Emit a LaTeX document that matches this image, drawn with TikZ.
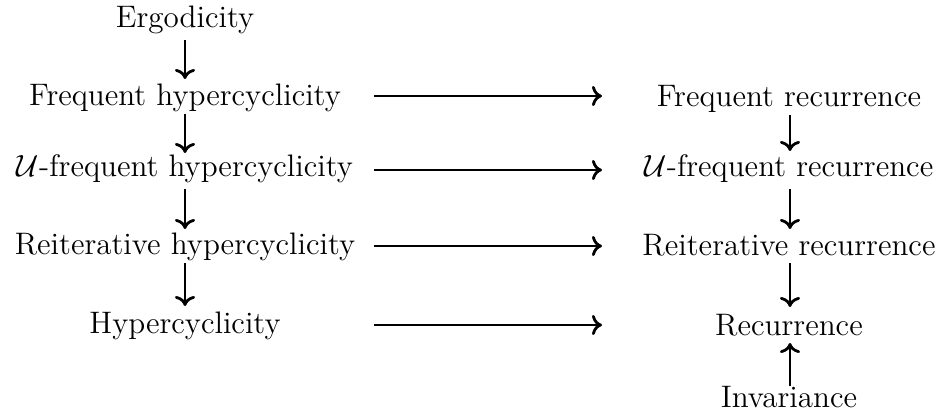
\documentclass[tikz,border=0pt]{standalone}
\usetikzlibrary{arrows.meta}
\begin{document}
\begin{tikzpicture}[x=0.357pt,y=-0.357pt,
  lbl/.style={anchor=base,inner sep=0pt,font=\fontsize{11.1pt}{13pt}\selectfont},
  arr/.style={line width=1pt,-{Computer Modern Rightarrow[length=3.6pt,width=7.2pt]}}]
\useasboundingbox (0,0) rectangle (945,417);
% left column
\node[lbl] (E)   at (185,28)  {Ergodicity};
\node[lbl] (FH)  at (185,106) {Frequent hypercyclicity};
\node[lbl] (UFH) at (185,177) {$\mathcal{U}$-frequent hypercyclicity};
\node[lbl] (RH)  at (185,254) {Reiterative hypercyclicity};
\node[lbl] (H)   at (185,333) {Hypercyclicity};
% right column
\node[lbl] (FR)  at (789,107) {Frequent recurrence};
\node[lbl] (UFR) at (789,177) {$\mathcal{U}$-frequent recurrence};
\node[lbl] (RR)  at (789,255) {Reiterative recurrence};
\node[lbl] (R)   at (789,335) {Recurrence};
\node[lbl] (I)   at (789,407) {Invariance};
% connector end points
\coordinate (e1) at (185,40);  \coordinate (e2) at (185,79);
\coordinate (f1) at (185,114); \coordinate (f2) at (185,153);
\coordinate (u1) at (185,189); \coordinate (u2) at (185,229);
\coordinate (r1) at (185,263); \coordinate (r2) at (185,306);
\coordinate (fr1) at (790,115); \coordinate (fr2) at (790,151);
\coordinate (ur1) at (790,189); \coordinate (ur2) at (790,229);
\coordinate (rr1) at (790,263); \coordinate (rr2) at (790,307);
\coordinate (i1) at (790,386);  \coordinate (i2) at (790,343);
\coordinate (h2a) at (374,96);  \coordinate (h2b) at (602,96);
\coordinate (h3a) at (374,170); \coordinate (h3b) at (602,170);
\coordinate (h4a) at (374,246); \coordinate (h4b) at (602,246);
\coordinate (h5a) at (374,325); \coordinate (h5b) at (602,325);
% vertical arrows
\draw[arr] (e1) -- (e2);
\draw[arr] (f1) -- (f2);
\draw[arr] (u1) -- (u2);
\draw[arr] (r1) -- (r2);
\draw[arr] (fr1) -- (fr2);
\draw[arr] (ur1) -- (ur2);
\draw[arr] (rr1) -- (rr2);
\draw[arr] (i1) -- (i2);
% horizontal arrows
\draw[arr] (h2a) -- (h2b);
\draw[arr] (h3a) -- (h3b);
\draw[arr] (h4a) -- (h4b);
\draw[arr] (h5a) -- (h5b);
\end{tikzpicture}
\end{document}
